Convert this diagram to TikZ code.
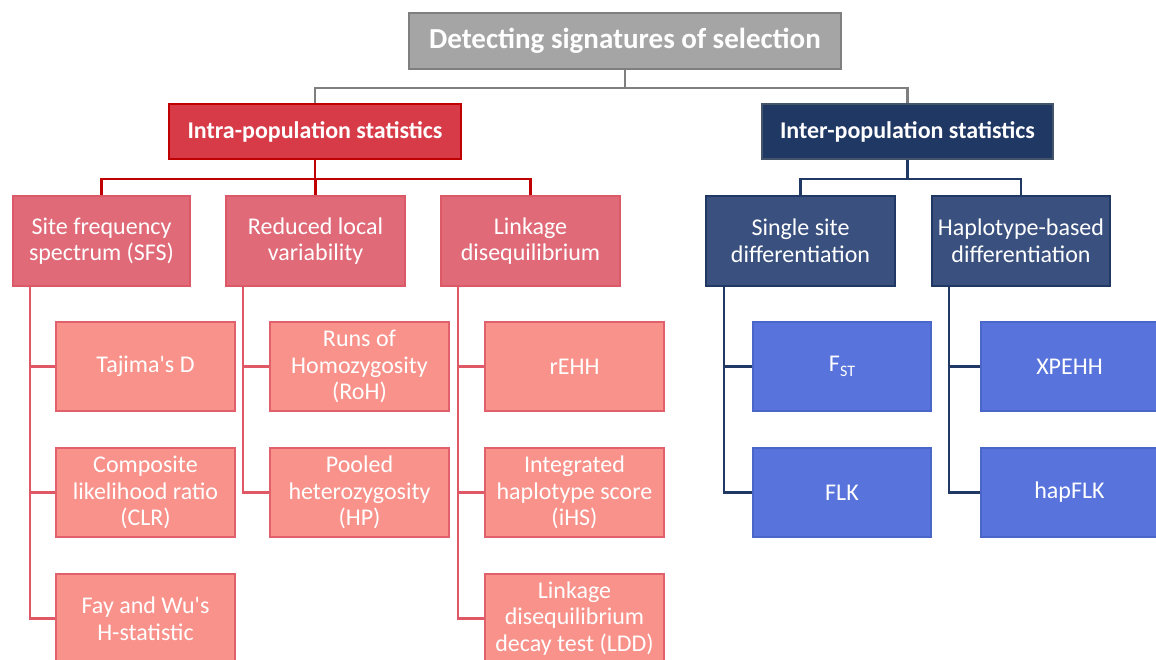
\documentclass[tikz,border=0pt]{standalone}
\usepackage{fontspec}
\setmainfont{Carlito}
\definecolor{gtopf}{HTML}{A5A5A5}
\definecolor{gtopb}{HTML}{7F7F7F}
\definecolor{gline}{HTML}{7F7F7F}
\definecolor{intraf}{HTML}{D73B48}
\definecolor{intrab}{HTML}{C00000}
\definecolor{redtwof}{HTML}{E06A78}
\definecolor{redtwob}{HTML}{DC5A68}
\definecolor{redthreef}{HTML}{F8928A}
\definecolor{redthreeb}{HTML}{E0616B}
\definecolor{redline}{HTML}{E05866}
\definecolor{interf}{HTML}{203864}
\definecolor{interb}{HTML}{44546A}
\definecolor{bluetwof}{HTML}{3A5180}
\definecolor{bluetwob}{HTML}{203864}
\definecolor{bluethreef}{HTML}{5874DC}
\definecolor{bluethreeb}{HTML}{4A66C8}
\definecolor{blueline}{HTML}{203864}
\begin{document}
\begin{tikzpicture}[x=1pt,y=-1pt,
  box/.style={draw, line width=2pt, text=white, align=center, inner sep=0pt,
    font=\fontsize{24}{26.5}\selectfont},
  topbox/.style={box, fill=gtopf, draw=gtopb, minimum width=432, minimum height=56,
    font=\bfseries\fontsize{29}{32}\selectfont},
  intrabox/.style={box, fill=intraf, draw=intrab, minimum width=292, minimum height=55,
    font=\bfseries\fontsize{24}{26}\selectfont},
  interbox/.style={box, fill=interf, draw=interb, minimum width=291, minimum height=55,
    font=\bfseries\fontsize{24}{26}\selectfont},
  redtwo/.style={box, fill=redtwof, draw=redtwob, minimum width=177, minimum height=90},
  bluetwo/.style={box, fill=bluetwof, draw=bluetwob, minimum width=178, minimum height=90},
  redthree/.style={box, fill=redthreef, draw=redthreeb, minimum width=179, minimum height=89},
  bluethree/.style={box, fill=bluethreef, draw=bluethreeb, minimum width=178, minimum height=89},
  gconn/.style={draw=gline, line width=2.5pt},
  rconn/.style={draw=intrab, line width=2.5pt},
  rconnb/.style={draw=redline, line width=2.2pt},
  bconn/.style={draw=blueline, line width=2.2pt},
]
\clip (0,0) rectangle (1156,659);
\fill[white] (0,0) rectangle (1156,659);

\node[topbox] (top) at (625,41) {Detecting signatures of selection};
\node[intrabox] (intra) at (315,131.5) {Intra-population statistics};
\node[interbox] (inter) at (907.5,131.5) {Inter-population statistics};

\node[redtwo] (sfs) at (101.5,241) {Site frequency\\spectrum (SFS)};
\node[redtwo, minimum width=179] (rlv) at (315.5,241) {Reduced local\\variability};
\node[redtwo, minimum width=179] (ld) at (530.5,241) {Linkage\\disequilibrium};
\node[bluetwo, minimum width=189] (ssd) at (800.5,241) {Single site\\differentiation};
\node[bluetwo] (hbd) at (1021,241) {Haplotype-based\\differentiation};

\node[redthree] (taj) at (145.5,366.5) {Tajima\textquotesingle s D};
\node[redthree] (clr) at (145.5,492.5) {Composite\\likelihood ratio\\(CLR)};
\node[redthree] (fay) at (145.5,618.5) {Fay and Wu\textquotesingle s\\H-statistic};
\node[redthree] (roh) at (359.5,366.5) {Runs of\\Homozygosity\\(RoH)};
\node[redthree] (hp) at (359.5,492.5) {Pooled\\heterozygosity\\(HP)};
\node[redthree] (rehh) at (574.5,366.5) {rEHH};
\node[redthree] (ihs) at (574.5,492.5) {Integrated\\haplotype score\\(iHS)};
\node[redthree] (ldd) at (574.5,618.5) {Linkage\\disequilibrium\\decay test (LDD)};
\node[bluethree] (fst) at (842,366.5) {F\raisebox{-5pt}{\fontsize{16}{16}\selectfont ST}};
\node[bluethree] (flk) at (842,492.5) {FLK};
\node[bluethree] (xpehh) at (1069.5,366.5) {XPEHH};
\node[bluethree] (hapflk) at (1069.5,492.5) {hapFLK};

% level 0 -> 1
\draw[gconn] (top.south) -- ++(0,18) -| (intra.north);
\draw[gconn] (top.south) -- ++(0,18) -| (inter.north);
% level 1 -> 2
\draw[rconn] (intra.south) -- ++(0,19) -| (sfs.north);
\draw[rconn] (intra.south) -- ++(0,19) -| (rlv.north);
\draw[rconn] (intra.south) -- ++(0,19) -| (ld.north);
\draw[bconn] (inter.south) -- ++(0,19) -| (ssd.north);
\draw[bconn] (inter.south) -- ++(0,19) -| (hbd.north);
% level 2 -> 3
\draw[rconnb] ([xshift=18pt]sfs.south west) |- (taj.west);
\draw[rconnb] ([xshift=18pt]sfs.south west) |- (clr.west);
\draw[rconnb] ([xshift=18pt]sfs.south west) |- (fay.west);
\draw[rconnb] ([xshift=18pt]rlv.south west) |- (roh.west);
\draw[rconnb] ([xshift=18pt]rlv.south west) |- (hp.west);
\draw[rconnb] ([xshift=18pt]ld.south west) |- (rehh.west);
\draw[rconnb] ([xshift=18pt]ld.south west) |- (ihs.west);
\draw[rconnb] ([xshift=18pt]ld.south west) |- (ldd.west);
\draw[bconn] ([xshift=19pt]ssd.south west) |- (fst.west);
\draw[bconn] ([xshift=19pt]ssd.south west) |- (flk.west);
\draw[bconn] ([xshift=18pt]hbd.south west) |- (xpehh.west);
\draw[bconn] ([xshift=18pt]hbd.south west) |- (hapflk.west);
\end{tikzpicture}
\end{document}
